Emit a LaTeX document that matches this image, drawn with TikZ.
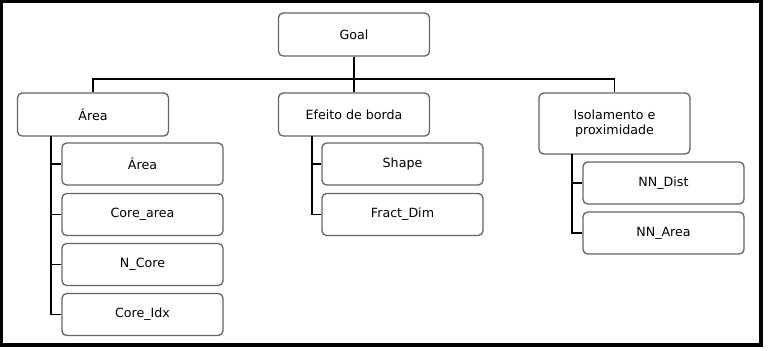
\documentclass[tikz,border=0pt]{standalone}
\usepackage{fontspec}
\setmainfont{DejaVu Sans}
\usepackage{tikz}
\usepackage{xcolor}
\definecolor{boxgray}{RGB}{98,100,102}
\tikzstyle{level1} = [rectangle, rounded corners=4pt, minimum width=4.53cm, minimum height=1.29cm, text centered, draw=boxgray, line width=1.1pt, fill=white, font=\fontsize{10.8}{13}\selectfont]
\tikzstyle{metric} = [rectangle, rounded corners=4pt, minimum width=4.83cm, minimum height=1.26cm, text centered, draw=boxgray, line width=1.1pt, fill=white, font=\fontsize{10.8}{13}\selectfont]
\tikzstyle{link} = [line width=1.5pt, black]

\begin{document}
\begin{tikzpicture}[x=0.03cm, y=-0.03cm, inner sep=1pt]
			\useasboundingbox (0,0) rectangle (768,350);
			\draw [line width=2.6pt] (1.6,1.6) rectangle (761,345);

			\node(goal) at (354, 34.5) [level1] {Goal};
			\node(area) at (93, 114.5) [level1] {Área};
			\node(edge) at (354, 114.5) [level1] {Efeito de borda};
			\node(isol) at (614.5, 123.5) [level1, minimum height=1.83cm, align=center] {Isolamento e\\proximidade};
			\node(a1) at (142.5, 164) [metric] {Área};
			\node(a2) at (142.5, 214.5) [metric] {Core\_area};
			\node(a3) at (142.5, 264.5) [metric] {N\_Core};
			\node(a4) at (142.5, 314.5) [metric] {Core\_Idx};
			\node(e1) at (402.5, 164) [metric] {Shape};
			\node(e2) at (402.5, 214.5) [metric] {Fract\_Dim};
			\node(i1) at (663.5, 183) [metric] {NN\_Dist};
			\node(i2) at (663.5, 233) [metric] {NN\_Area};
			\coordinate(busL) at (93, 79);
			\coordinate(busR) at (614.5, 79);
			\coordinate(aTrunk) at (51, 136);
			\coordinate(eTrunk) at (312, 136);
			\coordinate(iTrunk) at (572, 154);

			\draw [link] (goal.south) -- (goal.south |- busL);
			\draw [link] (area.north) -- (busL) -- (busR) -- (isol.north);
			\draw [link] (edge.north) -- (edge.north |- busL);
			\draw [link] (aTrunk) |- (a4.west);
			\draw [link] (aTrunk |- a1.west) -- (a1.west);
			\draw [link] (aTrunk |- a2.west) -- (a2.west);
			\draw [link] (aTrunk |- a3.west) -- (a3.west);
			\draw [link] (eTrunk) |- (e2.west);
			\draw [link] (eTrunk |- e1.west) -- (e1.west);
			\draw [link] (iTrunk) |- (i2.west);
			\draw [link] (iTrunk |- i1.west) -- (i1.west);
		\end{tikzpicture}
\end{document}
